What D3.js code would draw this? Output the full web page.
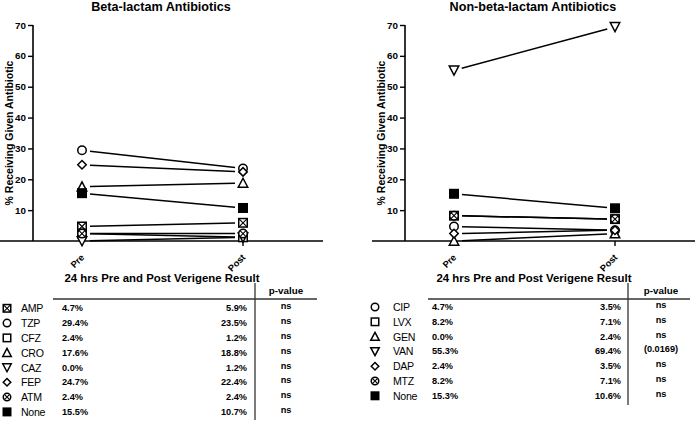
<!DOCTYPE html>
<html><head><meta charset="utf-8">
<script src="https://cdn.jsdelivr.net/npm/d3@7"></script>
<style>
body{margin:0;background:#fff;}
svg{display:block;font-family:"Liberation Sans",Arial,sans-serif;}
</style></head><body>
<svg id="c" width="696" height="422"></svg>
<script>
// ---- data ----
const timepoints = ["Pre", "Post"];
const yTicks = [10, 20, 30, 40, 50, 60, 70];

const betaNames  = ["AMP", "TZP", "CFZ", "CRO", "CAZ", "FEP", "ATM", "None"];
const betaSymbols = ["squareX", "circle", "square", "triUp", "triDown", "diamond", "circleX", "filledSquare"];
const betaPre    = [4.7, 29.4, 2.4, 17.6, 0.0, 24.7, 2.4, 15.5];
const betaPost   = [5.9, 23.5, 1.2, 18.8, 1.2, 22.4, 2.4, 10.7];
const betaP      = ["ns", "ns", "ns", "ns", "ns", "ns", "ns", "ns"];

const nonNames   = ["CIP", "LVX", "GEN", "VAN", "DAP", "MTZ", "None"];
const nonSymbols = ["circle", "square", "triUp", "triDown", "diamond", "circleX", "filledSquare"];
const nonPre     = [4.7, 8.2, 0.0, 55.3, 2.4, 8.2, 15.3];
const nonPost    = [3.5, 7.1, 2.4, 69.4, 3.5, 7.1, 10.6];
const nonP       = ["ns", "ns", "ns", "(0.0169)", "ns", "ns", "ns"];

const titles = ["Beta-lactam Antibiotics", "Non-beta-lactam Antibiotics"];
const yLabel = "% Receiving Given Antibiotic";
const tableTitle = "24 hrs Pre and Post Verigene Result";
const pHeader = "p-value";

// ---- drawing ----
const svg = d3.select("#c");
const y = d3.scaleLinear().domain([0, 70]).range([241, 25]);

function drawSymbol(g, type, cx, cy, s) {
  const h = s / 2;
  const sw = 1.5;
  const gg = g.append("g").attr("transform", `translate(${cx},${cy})`)
    .attr("stroke", "#000").attr("stroke-width", sw).attr("fill", "#fff");
  if (type === "circle") gg.append("circle").attr("r", h);
  else if (type === "square") gg.append("rect").attr("x", -h).attr("y", -h).attr("width", s).attr("height", s);
  else if (type === "filledSquare") gg.append("rect").attr("x", -h).attr("y", -h).attr("width", s).attr("height", s).attr("fill", "#000");
  else if (type === "squareX") {
    gg.append("rect").attr("x", -h).attr("y", -h).attr("width", s).attr("height", s);
    gg.append("path").attr("d", `M${-h},${-h}L${h},${h}M${-h},${h}L${h},${-h}`).attr("stroke-width", 1.1);
  }
  else if (type === "circleX") {
    gg.append("circle").attr("r", h);
    const k = h * 0.7;
    gg.append("path").attr("d", `M${-k},${-k}L${k},${k}M${-k},${k}L${k},${-k}`).attr("stroke-width", 1.1);
  }
  else if (type === "triUp") gg.append("path").attr("d", `M0,${-h - 0.5}L${h + 0.5},${h}L${-h - 0.5},${h}Z`);
  else if (type === "triDown") gg.append("path").attr("d", `M0,${h + 0.5}L${h + 0.5},${-h}L${-h - 0.5},${-h}Z`);
  else if (type === "diamond") gg.append("path").attr("d", `M0,${-h}L${h},0L0,${h}L${-h},0Z`);
}

function panel(cfg) {
  const g = svg.append("g");
  const x = d3.scalePoint().domain(timepoints).range([cfg.axisX + 49, cfg.axisX + 210]);

  // title
  g.append("text").attr("x", cfg.titleX).attr("y", 11).attr("text-anchor", "middle")
    .attr("font-weight", "bold").attr("font-size", 12.6).text(cfg.title);

  // y axis
  const ya = g.append("g").attr("transform", `translate(${cfg.axisX},0)`)
    .call(d3.axisLeft(y).tickValues(yTicks).tickSize(5).tickPadding(2).tickFormat(d3.format("d")));
  ya.select(".domain").attr("d", `M0,${y(70)}V${y(0)}`).attr("stroke-width", 1.6);
  ya.selectAll(".tick line").attr("stroke-width", 1.4);
  ya.selectAll(".tick text").attr("font-weight", "bold").attr("font-size", 9.8)
    .attr("font-family", "Liberation Sans, Arial, sans-serif").attr("fill", "#000");

  g.append("text").attr("transform", `translate(${cfg.labelX},${(y(0) + y(70)) / 2}) rotate(-90)`)
    .attr("text-anchor", "middle").attr("font-weight", "bold").attr("font-size", 10.5).text(yLabel);

  // x axis
  g.append("line").attr("x1", cfg.axisX - 33).attr("x2", cfg.axisX + 290)
    .attr("y1", y(0)).attr("y2", y(0)).attr("stroke", "#000").attr("stroke-width", 1.6);
  timepoints.forEach(t => {
    g.append("line").attr("x1", x(t)).attr("x2", x(t)).attr("y1", y(0)).attr("y2", y(0) + 5)
      .attr("stroke", "#000").attr("stroke-width", 1.4);
    g.append("text").attr("transform", `translate(${x(t) + 3},${y(0) + 17}) rotate(-45)`)
      .attr("text-anchor", "end").attr("font-weight", "bold").attr("font-size", 9.3).text(t);
  });

  // connecting lines with gaps
  const gap = 8;
  cfg.names.forEach((n, i) => {
    const x1 = x("Pre"), x2 = x("Post");
    const y1 = y(cfg.pre[i]), y2 = y(cfg.post[i]);
    const len = Math.hypot(x2 - x1, y2 - y1);
    const ux = (x2 - x1) / len, uy = (y2 - y1) / len;
    g.append("line").attr("x1", x1 + ux * gap).attr("y1", y1 + uy * gap)
      .attr("x2", x2 - ux * gap).attr("y2", y2 - uy * gap)
      .attr("stroke", "#000").attr("stroke-width", 1.5);
  });
  cfg.names.forEach((n, i) => {
    drawSymbol(g, cfg.symbols[i], x("Pre"), y(cfg.pre[i]), 8.5);
    drawSymbol(g, cfg.symbols[i], x("Post"), y(cfg.post[i]), 8.5);
  });

  // table
  const t = cfg.table;
  g.append("text").attr("x", t.titleX).attr("y", 282).attr("text-anchor", "middle")
    .attr("font-weight", "bold").attr("font-size", 11.4).text(tableTitle);
  g.append("line").attr("x1", t.hx1).attr("x2", t.hx2).attr("y1", 299).attr("y2", 299)
    .attr("stroke", "#333").attr("stroke-width", 1.3);
  g.append("line").attr("x1", t.vx).attr("x2", t.vx).attr("y1", 283).attr("y2", t.vy2)
    .attr("stroke", "#333").attr("stroke-width", 1.3);
  g.append("text").attr("x", t.pX).attr("y", 294).attr("text-anchor", "middle")
    .attr("font-weight", "bold").attr("font-size", 9.8).text(pHeader);

  const fmt = v => v.toFixed(1) + "%";
  cfg.names.forEach((n, i) => {
    const cy = t.row0 + i * 14.8;
    drawSymbol(g, cfg.symbols[i], t.symX, cy, 7.5);
    g.append("text").attr("x", t.nameX).attr("y", cy + 4).attr("font-size", 10.6)
      .attr("letter-spacing", -0.3).text(n);
    g.append("text").attr("x", t.preX).attr("y", cy + 3).attr("font-size", 9.2)
      .attr("font-weight", "bold").text(fmt(cfg.pre[i]));
    g.append("text").attr("x", t.postX).attr("y", cy + 3).attr("font-size", 9.2)
      .attr("text-anchor", "end").attr("font-weight", "bold").text(fmt(cfg.post[i]));
    g.append("text").attr("x", t.pX).attr("y", cy + 1).attr("font-size", 9.2)
      .attr("text-anchor", "middle").attr("font-weight", "bold").text(cfg.p[i]);
  });
}

panel({
  title: titles[0], titleX: 161, axisX: 33, labelX: 13,
  names: betaNames, symbols: betaSymbols, pre: betaPre, post: betaPost, p: betaP,
  table: { titleX: 162, hx1: 53, hx2: 317, vx: 255, vy2: 420, pX: 286,
           row0: 308.3, symX: 7, nameX: 21, preX: 62, postX: 247 }
});
panel({
  title: titles[1], titleX: 533, axisX: 405, labelX: 385,
  names: nonNames, symbols: nonSymbols, pre: nonPre, post: nonPost, p: nonP,
  table: { titleX: 534, hx1: 428, hx2: 690, vx: 628, vy2: 405, pX: 661,
           row0: 307, symX: 375, nameX: 393, preX: 432, postX: 621 }
});
</script>
</body></html>
